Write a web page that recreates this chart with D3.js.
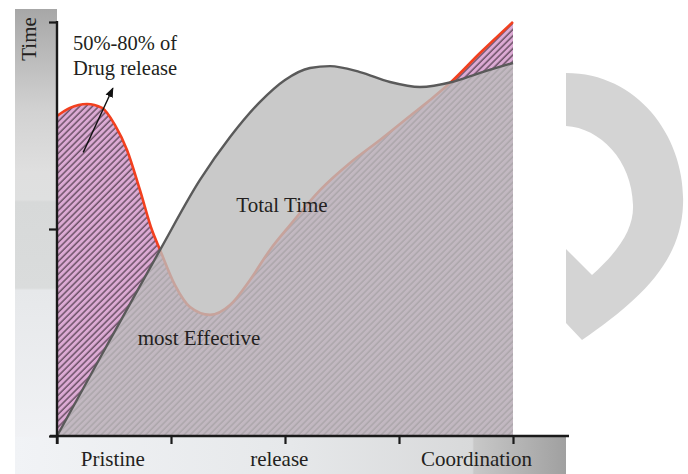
<!DOCTYPE html>
<html>
<head>
<meta charset="utf-8">
<script src="https://cdn.jsdelivr.net/npm/d3@7"></script>
<style>
  html, body { margin: 0; padding: 0; background: #ffffff; }
  svg text { font-family: "Liberation Serif", "DejaVu Serif", serif; fill: #231f20; }
</style>
</head>
<body>
<svg id="chart" width="688" height="474"></svg>
<script>
// ---- data ----
const xTicks = [0, 1, 2, 3, 4];
const yTicks = [0, 1, 2];
const categories = ["Pristine", "release", "Coordination"];
const categoryPos = [0.49, 1.95, 3.68];

// drug release curve (red, hatched purple area)
const releaseX = [0, 0.114, 0.263, 0.395, 0.509, 0.614, 0.728, 0.833, 0.904, 1.035, 1.167, 1.342, 1.518, 1.693, 1.868, 2.044, 2.307, 2.570, 2.833, 3.096, 3.272, 3.447, 3.711, 4];
const releaseY = [1.546, 1.585, 1.604, 1.585, 1.502, 1.382, 1.188, 0.995, 0.899, 0.729, 0.623, 0.585, 0.633, 0.754, 0.899, 1.019, 1.188, 1.319, 1.430, 1.546, 1.623, 1.705, 1.850, 2.0];

// total time curve (gray area)
const totalX = [0, 0.377, 0.904, 1.254, 1.518, 1.781, 2.0, 2.219, 2.395, 2.658, 2.921, 3.184, 3.465, 3.711, 4];
const totalY = [0, 0.377, 0.899, 1.237, 1.444, 1.614, 1.720, 1.778, 1.787, 1.758, 1.710, 1.686, 1.710, 1.754, 1.802];

const annotationLines = ["50%-80% of", "Drug release"];

// ---- layout ----
const svg = d3.select("#chart");
const x = d3.scaleLinear().domain([0, 4]).range([57, 513]);
const y = d3.scaleLinear().domain([0, 2]).range([436, 22]);

const defs = svg.append("defs");
const lg = defs.append("linearGradient").attr("id", "leftGrad").attr("x1", 0).attr("y1", 0).attr("x2", 0).attr("y2", 1);
[["0%", "#a7a7a7"], ["22%", "#d2d2d2"], ["35%", "#dfdfdf"], ["41%", "#dfe0e0"], ["41.5%", "#d7d9d9"], ["60%", "#dadcdc"], ["60.5%", "#e6e8ea"], ["100%", "#f3f4f7"]]
  .forEach(s => lg.append("stop").attr("offset", s[0]).attr("stop-color", s[1]));
const bg = defs.append("linearGradient").attr("id", "bottomGrad").attr("x1", 0).attr("y1", 0).attr("x2", 1).attr("y2", 0);
[["0%", "#f1f3f6"], ["50%", "#e6e8ea"], ["83%", "#d8d9da"], ["83.3%", "#c8c8c8"], ["100%", "#a0a0a0"]]
  .forEach(s => bg.append("stop").attr("offset", s[0]).attr("stop-color", s[1]));

const pat = defs.append("pattern").attr("id", "hatch").attr("patternUnits", "userSpaceOnUse")
  .attr("width", 4.5).attr("height", 4.5).attr("patternTransform", "rotate(45)");
pat.append("rect").attr("width", 4.5).attr("height", 4.5).attr("fill", "#dcaad4");
pat.append("line").attr("x1", 1).attr("y1", 0).attr("x2", 1).attr("y2", 4.5)
  .attr("stroke", "#33232f").attr("stroke-width", 1.0);

defs.append("marker").attr("id", "arrow").attr("viewBox", "0 0 10 10").attr("refX", 9).attr("refY", 5)
  .attr("markerWidth", 7).attr("markerHeight", 7).attr("orient", "auto")
  .append("path").attr("d", "M0,1 L10,5 L0,9 Z").attr("fill", "#111");

// background panels
svg.append("rect").attr("x", 15).attr("y", 9).attr("width", 42).attr("height", 465).attr("fill", "url(#leftGrad)");
svg.append("rect").attr("x", 15).attr("y", 437).attr("width", 551).attr("height", 37).attr("fill", "url(#bottomGrad)");

// decorative D shape at right
svg.append("path")
  .attr("d", "M566,73 C640,73 686,140 683,205 C681,262 640,300 582,340 L566,323 L566,249 L592,275 C620,250 634,228 633,205 C632,160 600,128 566,126 Z")
  .attr("fill", "#d4d4d4");

const release = releaseX.map((v, i) => ({ x: v, y: releaseY[i] }));
const total = totalX.map((v, i) => ({ x: v, y: totalY[i] }));
const curve = d3.curveMonotoneX;

const area = d3.area().x(d => x(d.x)).y0(y(0)).y1(d => y(d.y)).curve(curve);
const line = d3.line().x(d => x(d.x)).y(d => y(d.y)).curve(curve);

svg.append("path").datum(release).attr("d", area).attr("fill", "url(#hatch)");
svg.append("path").datum(release).attr("d", line).attr("fill", "none").attr("stroke", "#f2401f").attr("stroke-width", 2.6);

svg.append("path").datum(total).attr("d", area).attr("fill", "#bbbbbb").attr("fill-opacity", 0.8);
svg.append("path").datum(total).attr("d", line).attr("fill", "none").attr("stroke", "#5a5a5a").attr("stroke-width", 2.4);

// axes
const xAxis = svg.append("g").attr("transform", `translate(0,${y(0)})`)
  .call(d3.axisBottom(x).tickValues(xTicks).tickSize(8).tickSizeOuter(0).tickFormat(""));
const yAxis = svg.append("g").attr("transform", `translate(${x(0)},0)`)
  .call(d3.axisLeft(y).tickValues(yTicks).tickSize(8).tickSizeOuter(0).tickFormat(""));
[xAxis, yAxis].forEach(g => {
  g.select(".domain").remove();
  g.selectAll(".tick line").attr("stroke", "#1a1a1a").attr("stroke-width", 2.2);
});
svg.append("line").attr("x1", 50).attr("x2", 569).attr("y1", y(0)).attr("y2", y(0)).attr("stroke", "#1a1a1a").attr("stroke-width", 2.4);
svg.append("line").attr("x1", x(0)).attr("x2", x(0)).attr("y1", y(2) - 1).attr("y2", y(0) + 8).attr("stroke", "#1a1a1a").attr("stroke-width", 2.4);

// category labels
svg.selectAll("text.cat").data(categories).enter().append("text").attr("class", "cat")
  .attr("x", (d, i) => x(categoryPos[i])).attr("y", 466).attr("text-anchor", "middle")
  .attr("font-size", 21).text(d => d);

// y axis title
svg.append("text").attr("transform", "translate(36,39) rotate(-90)").attr("text-anchor", "middle")
  .attr("font-size", 21).text("Time");

// annotations
svg.selectAll("text.ann").data(annotationLines).enter().append("text").attr("class", "ann")
  .attr("x", 125).attr("y", (d, i) => 50 + i * 24.5).attr("text-anchor", "middle")
  .attr("font-size", 20.5).text(d => d);
svg.append("line").attr("x1", x(0.23)).attr("y1", y(1.37)).attr("x2", x(0.49)).attr("y2", y(1.68))
  .attr("stroke", "#111").attr("stroke-width", 1.4).attr("marker-end", "url(#arrow)");

svg.append("text").attr("x", 282).attr("y", 212).attr("text-anchor", "middle").attr("font-size", 21).text("Total Time");
svg.append("text").attr("x", 199).attr("y", 345).attr("text-anchor", "middle").attr("font-size", 21).text("most Effective");
</script>
</body>
</html>
